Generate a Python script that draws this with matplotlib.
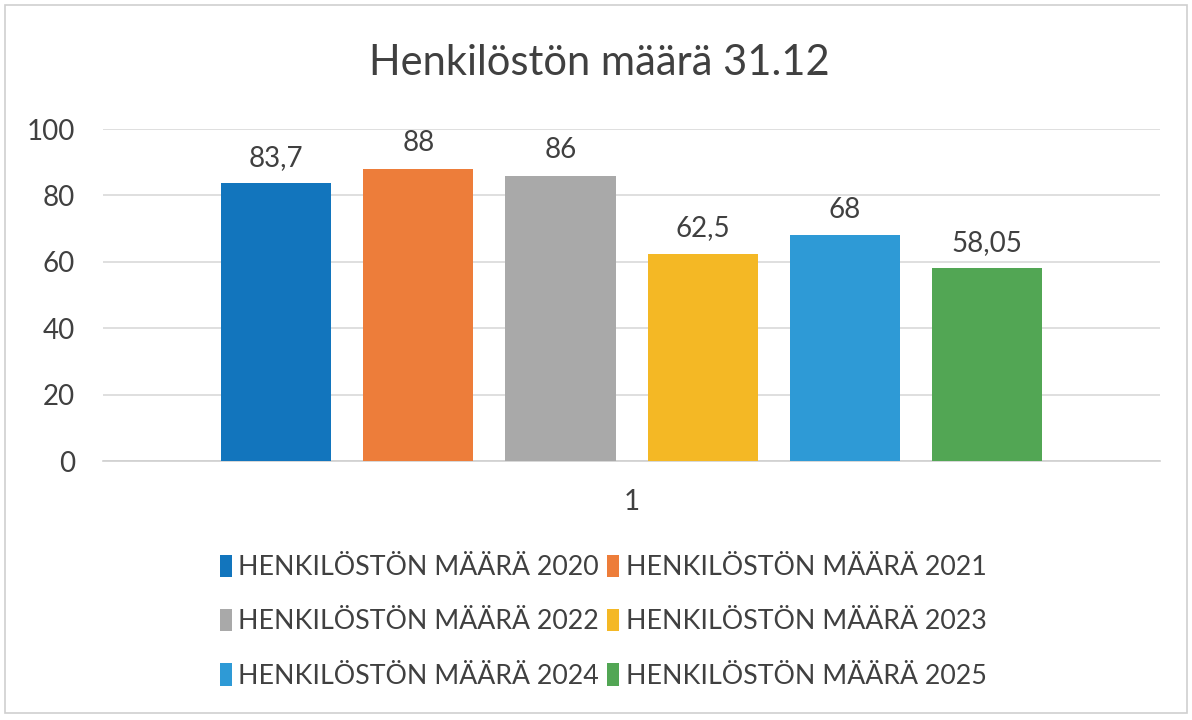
import matplotlib.pyplot as plt
from matplotlib.patches import Rectangle

plt.rcParams['font.family'] = ['Lato', 'DejaVu Sans']

series = ["HENKILÖSTÖN MÄÄRÄ 2020", "HENKILÖSTÖN MÄÄRÄ 2021",
          "HENKILÖSTÖN MÄÄRÄ 2022", "HENKILÖSTÖN MÄÄRÄ 2023",
          "HENKILÖSTÖN MÄÄRÄ 2024", "HENKILÖSTÖN MÄÄRÄ 2025"]
values = [83.7, 88, 86, 62.5, 68, 58.05]
value_labels = ["83,7", "88", "86", "62,5", "68", "58,05"]
colors = ["#1275bd", "#ed7d3a", "#a9a9a9", "#f4b825", "#2e9ad6", "#52a654"]
category = "1"

fig = plt.figure(figsize=(11.92, 7.2), dpi=100)
ax = fig.add_axes([0.0864, 0.3597, 0.8868, 0.4611])

txt = "#404040"
handles = []
for i, (name, v, lab, c) in enumerate(zip(series, values, value_labels, colors)):
    x = i - 2.5
    b = ax.bar(x, v, width=0.775, color=c, label=name, zorder=3)
    handles.append(b)
    ax.annotate(lab, (x, v), xytext=(0, 9), textcoords='offset points',
                ha='center', va='bottom', fontsize=20, color=txt)

ax.set_xlim(-3.72, 3.72)
ax.set_ylim(0, 100)
ax.set_yticks(range(0, 101, 20))
ax.set_xticks([0])
ax.set_xticklabels([category])
ax.tick_params(axis='both', length=0, labelsize=20, labelcolor=txt)
ax.tick_params(axis='x', pad=20)
ax.tick_params(axis='y', pad=20)
ax.grid(axis='y', color='#d9d9d9', linewidth=1.2, zorder=0)
for s in ['top', 'right', 'left']:
    ax.spines[s].set_visible(False)
ax.spines['bottom'].set_color('#d0d0d0')
ax.spines['bottom'].set_linewidth(1.2)

fig.text(0.503, 0.912, "Henkilöstön määrä 31.12", ha='center', va='center',
         fontsize=30, color=txt)

# legend reads row by row in the reference, matplotlib fills columns first
order = [0, 2, 4, 1, 3, 5]
fig.legend(handles=[handles[k] for k in order], labels=[series[k] for k in order],
           loc='center', bbox_to_anchor=(0.506, 0.1365), ncol=2,
           frameon=False, fontsize=19.3, handlelength=0.45, handleheight=0.9,
           handletextpad=0.25, columnspacing=0.3, labelspacing=1.08,
           labelcolor=txt)

fig.patches.append(Rectangle((0.004, 0.01), 0.992, 0.983, transform=fig.transFigure,
                             fill=False, edgecolor='#cfcfcf', linewidth=1.2))

fig.savefig("out.png", dpi=100, facecolor='white')
